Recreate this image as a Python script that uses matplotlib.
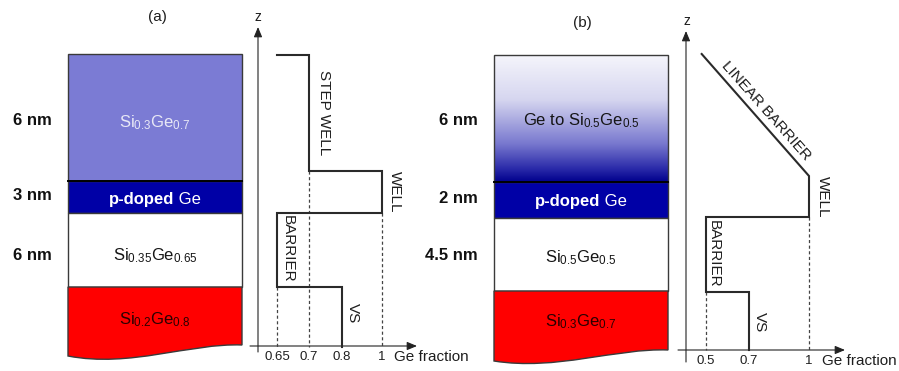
import numpy as np
import matplotlib
matplotlib.use('Agg')
import matplotlib.pyplot as plt
from matplotlib.patches import Rectangle, PathPatch
from matplotlib.path import Path
from matplotlib.colors import LinearSegmentedColormap

plt.rcParams['font.family'] = ['Liberation Sans', 'DejaVu Sans']
plt.rcParams['mathtext.fontset'] = 'custom'
plt.rcParams['mathtext.rm'] = 'Liberation Sans'
plt.rcParams['mathtext.it'] = 'Liberation Sans:italic'
plt.rcParams['mathtext.bf'] = 'Liberation Sans:bold'

# ------------------------------------------------------------------ data
panel_titles = ['(a)', '(b)']

# panel (a)
a_layers = [r'Si$_{0.3}$Ge$_{0.7}$', ('p-doped', ' Ge'),
            r'Si$_{0.35}$Ge$_{0.65}$', r'Si$_{0.2}$Ge$_{0.8}$']
a_thickness = ['6 nm', '3 nm', '6 nm']
a_profile_ge = [0.65, 0.7, 0.7, 1.0, 1.0, 0.65, 0.65, 0.8, 0.8]
a_profile_z = [55, 55, 171, 171, 213, 213, 287, 287, 347]   # schematic depth
a_guides_ge = [0.7, 1.0, 0.65]
a_guides_z0 = [171, 213, 287]
a_ticks = [0.65, 0.7, 0.8, 1.0]
a_tick_labels = ['0.65', '0.7', '0.8', '1']
a_regions = ['STEP WELL', 'WELL', 'BARRIER', 'VS']

# panel (b)
b_layers = [r'Ge to Si$_{0.5}$Ge$_{0.5}$', ('p-doped', ' Ge'),
            r'Si$_{0.5}$Ge$_{0.5}$', r'Si$_{0.3}$Ge$_{0.7}$']
b_thickness = ['6 nm', '2 nm', '4.5 nm']
b_profile_ge = [0.48, 1.0, 1.0, 0.5, 0.5, 0.7, 0.7]
b_profile_z = [54, 176, 217, 217, 292, 292, 350]
b_guides_ge = [1.0, 0.5]
b_guides_z0 = [217, 292]
b_ticks = [0.5, 0.7, 1.0]
b_tick_labels = ['0.5', '0.7', '1']
b_regions = ['LINEAR BARRIER', 'WELL', 'BARRIER', 'VS']

# ------------------------------------------------------------------ figure
W, H = 899, 371
fig = plt.figure(figsize=(W / 100, H / 100), dpi=100)
base = fig.add_axes([0, 0, 1, 1])
base.set_xlim(0, W)
base.set_ylim(H, 0)
base.axis('off')

EDGE = '#3a3a3a'
TXT = '#1e1e1e'
PURPLE = '#7b7bd4'
BLUE = '#0000a6'
RED = '#ff0000'


def stack(x0, x1, bounds, bottom_r, bottom_l, ctrl, colors, gradient=False):
    for i in range(3):
        y0, y1 = bounds[i], bounds[i + 1]
        if gradient and i == 0:
            cmap = LinearSegmentedColormap.from_list(
                'g', [(0.0, (0.96, 0.96, 0.985)), (0.35, (0.84, 0.84, 0.94)),
                      (0.7, (0.47, 0.47, 0.81)), (0.9, (0.16, 0.16, 0.66)),
                      (1.0, (0.0, 0.0, 0.55))])
            base.imshow(np.linspace(0, 1, 256)[:, None], cmap=cmap, aspect='auto',
                        extent=(x0, x1, y1, y0), origin='upper', zorder=1,
                        interpolation='bilinear')
            base.add_patch(Rectangle((x0, y0), x1 - x0, y1 - y0, fc='none',
                                     ec=EDGE, lw=1, zorder=2))
        else:
            base.add_patch(Rectangle((x0, y0), x1 - x0, y1 - y0, fc=colors[i],
                                     ec=EDGE, lw=1, zorder=2))
    yt = bounds[3]
    verts = [(x0, yt), (x1, yt), (x1, bottom_r), ctrl[0], ctrl[1], (x0, bottom_l), (x0, yt)]
    codes = [Path.MOVETO, Path.LINETO, Path.LINETO, Path.CURVE4, Path.CURVE4,
             Path.CURVE4, Path.CLOSEPOLY]
    base.add_patch(PathPatch(Path(verts, codes), fc=colors[3], ec=EDGE, lw=1, zorder=2))
    base.plot([x0, x1], [bounds[1], bounds[1]], color='black', lw=1.4, zorder=3)


stack(68, 242, [54, 181, 213, 287], 345, 356, [(190, 343), (130, 368)],
      [PURPLE, BLUE, 'white', RED])
stack(494, 668, [55, 182, 218, 291], 350, 361, [(616, 348), (556, 371)],
      [None, BLUE, 'white', RED], gradient=True)

renderer = fig.canvas.get_renderer()


def layer_label(cx, y, label, color):
    if isinstance(label, tuple):
        t1 = base.text(cx, y, label[0], weight='bold', ha='left', va='baseline',
                       fontsize=12, color=color, zorder=5)
        t2 = base.annotate(label[1], xy=(1, 0), xycoords=t1, ha='left', va='bottom',
                           fontsize=12, color=color, zorder=5)
        w = t1.get_window_extent(renderer).width + t2.get_window_extent(renderer).width
        t1.set_x(cx - w / 2)
    else:
        base.text(cx, y, label, ha='center', va='baseline', fontsize=12,
                  color=color, zorder=5)


a_label_y = [127, 204, 260, 324]
a_label_c = ['#e8e8f6', 'white', '#151515', '#2a0000']
for lab, yy, cc in zip(a_layers, a_label_y, a_label_c):
    layer_label(155, yy, lab, cc)
b_label_y = [125, 206, 262, 326]
b_label_c = ['#151515', 'white', '#151515', '#2a0000']
for lab, yy, cc in zip(b_layers, b_label_y, b_label_c):
    layer_label(581, yy, lab, cc)

for lab, yy in zip(a_thickness, [125, 200, 260]):
    base.text(52, yy, lab, ha='right', va='baseline', fontsize=12,
              weight='bold', color='#111')
for lab, yy in zip(b_thickness, [125, 203, 260]):
    base.text(478, yy, lab, ha='right', va='baseline', fontsize=12,
              weight='bold', color='#111')

base.text(157, 17, panel_titles[0], ha='center', va='center', fontsize=11, color=TXT)
base.text(582, 23, panel_titles[1], ha='center', va='center', fontsize=11, color=TXT)


# ------------------------------------------------------------------ profiles
def make_scale(ge_pts, px_pts, slope_l, slope_r):
    gx = np.concatenate([[ge_pts[0] - 20], ge_pts, [ge_pts[-1] + 20]])
    px = np.concatenate([[px_pts[0] - 20 * slope_l], px_pts, [px_pts[-1] + 20 * slope_r]])
    fwd = lambda x: np.interp(x, gx, px)
    inv = lambda p: np.interp(p, px, gx)
    return fwd, inv


def profile(ticks, labels, tick_px, slope_l, slope_r, ge, z, g_ge, g_z0, axis_z, tick_y):
    fwd, inv = make_scale(np.array(ticks), np.array(tick_px, float), slope_l, slope_r)
    ax = fig.add_axes([0, 0, 1, 1])
    ax.set_xscale('function', functions=(fwd, inv))
    ax.set_xlim(inv(0), inv(W))
    ax.set_ylim(H, 0)
    ax.axis('off')
    ax.patch.set_alpha(0)
    ax.plot(ge, z, color='#2a2a2a', lw=1.5, solid_joinstyle='miter', zorder=4)
    for g, z0 in zip(g_ge, g_z0):
        ax.plot([g, g], [z0, axis_z], color='#444', lw=0.9, ls=(0, (2.5, 2)), zorder=3)
    for t, lab in zip(ticks, labels):
        ax.text(t, tick_y, lab, ha='center', va='center', fontsize=9.5, color=TXT)
    return ax


pa = profile(a_ticks, a_tick_labels, [277, 309, 342, 382], 640, 200,
             a_profile_ge, a_profile_z, a_guides_ge, a_guides_z0, 347, 357)
pb = profile(b_ticks, b_tick_labels, [706, 749, 809], 215, 200,
             b_profile_ge, b_profile_z, b_guides_ge, b_guides_z0, 350, 361)

arrow = dict(arrowstyle='-|>,head_length=0.6,head_width=0.25', lw=0.8,
             color='#222', shrinkA=0, shrinkB=0, mutation_scale=10)
# axes of (a)
base.annotate('', xy=(258, 27), xytext=(258, 352), arrowprops=arrow)
base.annotate('', xy=(417, 346), xytext=(250, 346), arrowprops=arrow)
base.text(258, 17, 'z', ha='center', va='center', fontsize=10, color=TXT)
base.text(394, 357, 'Ge fraction', ha='left', va='center', fontsize=11, color=TXT)
# axes of (b)
base.annotate('', xy=(845, 350), xytext=(678, 350), arrowprops=arrow)
base.annotate('', xy=(686, 31), xytext=(686, 362), arrowprops=arrow)
base.text(687, 21, 'z', ha='center', va='center', fontsize=10, color=TXT)
base.text(822, 361, 'Ge fraction', ha='left', va='center', fontsize=11, color=TXT)

# region labels
rk = dict(fontsize=11, color=TXT, ha='center', va='center')
base.text(324, 113, a_regions[0], rotation=-90, **rk)
base.text(395, 192, a_regions[1], rotation=-90, **rk)
base.text(288, 249, a_regions[2], rotation=-90, **rk)
base.text(353, 313, a_regions[3], rotation=-90, **rk)
base.text(766, 111, b_regions[0], rotation=-48.5, rotation_mode='anchor', **rk)
base.text(823, 197, b_regions[1], rotation=-90, **rk)
base.text(714, 254, b_regions[2], rotation=-90, **rk)
base.text(760, 322, b_regions[3], rotation=-90, **rk)

fig.savefig('out.png', dpi=100)
